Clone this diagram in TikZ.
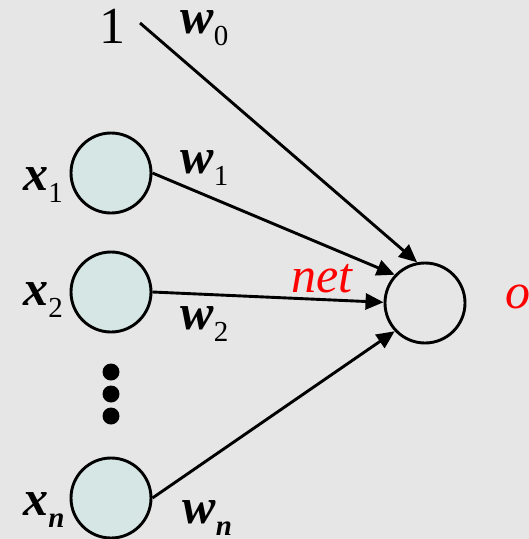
\documentclass[tikz,border=0pt]{standalone}
\usepackage{fontspec}
\setmainfont{Liberation Serif}[ItalicFont={Liberation Serif Italic},BoldItalicFont={Liberation Serif Bold Italic}]
\usetikzlibrary{arrows.meta}
\definecolor{bgGray}{RGB}{230,230,230}
\definecolor{inFill}{RGB}{213,230,228}
\newcommand{\sublbl}[2]{#1\raisebox{-12pt}{\fontsize{29}{29}\selectfont #2}}
\begin{document}
\begin{tikzpicture}
		[x=1pt,y=1pt,line width=2.9pt,>={Triangle[length=18pt,width=16pt]},
		 neuron/.style={circle,draw=black,line width=2.9pt,minimum size=80pt,inner sep=0pt},
		 lbl/.style={font=\fontsize{50}{50}\selectfont\bfseries\itshape,inner sep=0pt,anchor=base west},
		 redlbl/.style={font=\fontsize{50}{50}\selectfont\itshape,text=red,inner sep=0pt,anchor=base west}]

        \fill[bgGray] (0,0) rectangle (529,-539);
        \useasboundingbox (0,0) rectangle (529,-539);

        % inputs
        \node[neuron,fill=inFill] (x1) at (111,-173) {};
        \node[neuron,fill=inFill] (x2) at (111,-292) {};
        \node[neuron,fill=inFill] (xn) at (111,-498) {};
        \node[neuron] (out) at (425,-303) {};

        \node[font=\fontsize{52}{52}\selectfont,inner sep=0pt,anchor=base] (one) at (112,-43) {1};
        \coordinate (bias) at (140,-23);

        \foreach \y in {372,394,416}
            \fill[black] (111,-\y) circle (8.5pt);

        % input labels
        \node[lbl] (lx1) at (22,-190) {\sublbl{x}{\mdseries\upshape 1}};
        \node[lbl] (lx2) at (22,-305) {\sublbl{x}{\mdseries\upshape 2}};
        \node[lbl] (lxn) at (22,-515) {\sublbl{x}{n}};

        % weights
        \node[lbl] (w0) at (179,-33) {\sublbl{w}{\mdseries\upshape 0}};
        \node[lbl] (w1) at (179,-173) {\sublbl{w}{\mdseries\upshape 1}};
        \node[lbl] (w2) at (179,-329) {\sublbl{w}{\mdseries\upshape 2}};
        \node[lbl] (wn) at (181,-523) {\sublbl{w}{n}};

        \node[redlbl] (net) at (290,-292) {net};
        \node[redlbl] (o) at (504,-308) {o};

		\draw[->] (bias) -- (out.101);
		\draw[->] (x1.east) -- (out.137);
		\draw[->] (x2.east) -- (out.179);
		\draw[->] (xn.east) -- (out.223);

    \end{tikzpicture}
\end{document}
